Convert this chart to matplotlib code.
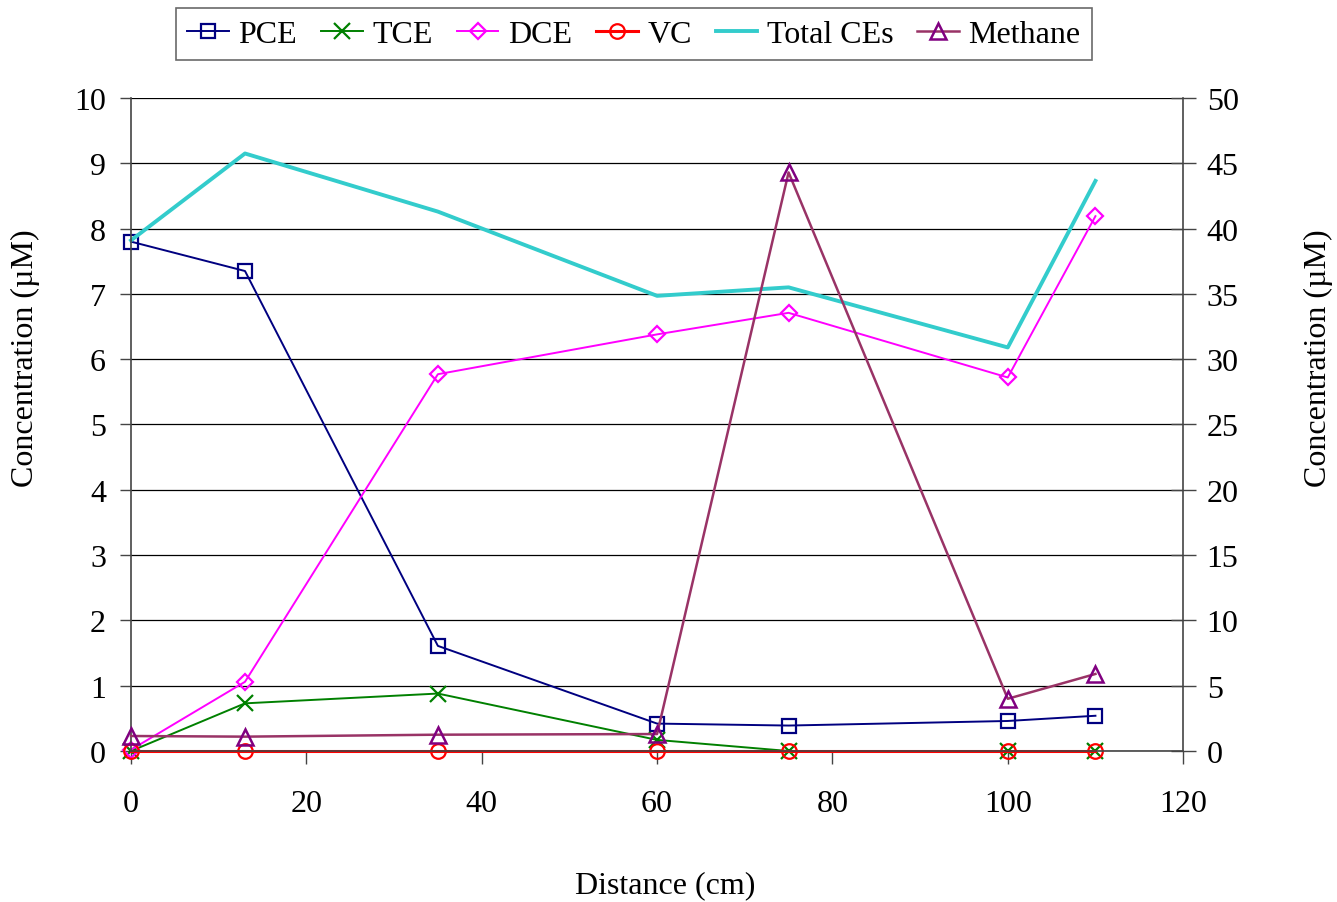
import matplotlib
matplotlib.use("Agg")
import matplotlib.pyplot as plt
from matplotlib.ticker import MultipleLocator

plt.rcParams['font.family'] = ['Liberation Serif', 'DejaVu Serif']

distance = [0, 13, 35, 60, 75, 100, 110]
pce = [7.80, 7.35, 1.61, 0.42, 0.39, 0.46, 0.54]
tce = [0.00, 0.73, 0.88, 0.17, 0.00, 0.00, 0.00]
dce = [0.02, 1.06, 5.77, 6.38, 6.71, 5.72, 8.19]
vc = [0.00, 0.00, 0.00, 0.00, 0.00, 0.00, 0.00]
total_ces = [7.82, 9.15, 8.26, 6.97, 7.10, 6.18, 8.73]
methane = [1.15, 1.1, 1.25, 1.3, 44.3, 4.0, 5.9]

fs = 23

fig = plt.figure(figsize=(13.37, 9.03), dpi=100)
ax = fig.add_axes([0.098, 0.1672, 0.7869, 0.7232])
ax2 = ax.twinx()

lw = 1.4
common = dict(clip_on=False)
h_pce, = ax.plot(distance, pce, color='#000080', lw=lw, marker='s', ms=10.5,
                 mfc='none', mec='#000080', mew=1.6, label='PCE', **common)
h_tce, = ax.plot(distance, tce, color='#008000', lw=lw, marker='x', ms=11,
                 mec='#008000', mew=1.6, label='TCE', **common)
h_dce, = ax.plot(distance, dce, color='#FF00FF', lw=lw, marker='D', ms=8.5,
                 mfc='none', mec='#FF00FF', mew=1.6, label='DCE', **common)
h_vc, = ax.plot(distance, vc, color='#FF0000', lw=2.2, marker='o', ms=10.5,
                mfc='none', mec='#FF0000', mew=1.6, label='VC', **common)
h_tot, = ax.plot(distance, total_ces, color='#33CCCC', lw=2.8, label='Total CEs',
                 **common)
h_met, = ax2.plot(distance, methane, color='#993366', lw=1.8, marker='^', ms=11,
                  mfc='none', mec='#800080', mew=1.8, label='Methane', **common)

ax.set_xlim(0, 120)
ax.set_ylim(0, 10)
ax2.set_ylim(0, 50)
ax.xaxis.set_major_locator(MultipleLocator(20))
ax.yaxis.set_major_locator(MultipleLocator(1))
ax2.yaxis.set_major_locator(MultipleLocator(5))

ax.grid(axis='y', color='black', lw=0.9)
ax.set_axisbelow(True)

for a in (ax, ax2):
    for s in a.spines.values():
        s.set_visible(False)
ax.spines['left'].set_visible(True)
ax.spines['bottom'].set_visible(True)
ax2.spines['right'].set_visible(True)
for s in (ax.spines['left'], ax.spines['bottom'], ax2.spines['right']):
    s.set_color('#444444')
    s.set_linewidth(1.2)

ax.tick_params(axis='y', labelsize=fs, length=8, width=1, color='#444444',
               direction='out', pad=10)
ax.tick_params(axis='x', labelsize=fs, length=9, width=1, color='#444444',
               direction='out', pad=18)
ax2.tick_params(axis='y', labelsize=fs, length=18, width=1, color='#444444',
                direction='inout', pad=8)

fig.text(665 / 1337, 1 - 886 / 903, 'Distance (cm)', fontsize=fs,
         ha='center', va='center')
fig.text(25 / 1337, 1 - 358 / 903, 'Concentration (µM)', fontsize=fs,
         rotation=90, ha='center', va='center')
fig.text(1318 / 1337, 1 - 358 / 903, 'Concentration (µM)', fontsize=fs,
         rotation=90, ha='center', va='center')

leg = fig.legend(handles=[h_pce, h_tce, h_dce, h_vc, h_tot, h_met],
                 loc='center', bbox_to_anchor=(634 / 1337, 1 - 35 / 903), ncol=6,
                 fontsize=fs, frameon=True, fancybox=False, edgecolor='#444444',
                 handlelength=1.3, handletextpad=0.3, columnspacing=0.75,
                 borderpad=0.35)
leg.get_frame().set_linewidth(1.2)

fig.savefig('out.png', dpi=100)
